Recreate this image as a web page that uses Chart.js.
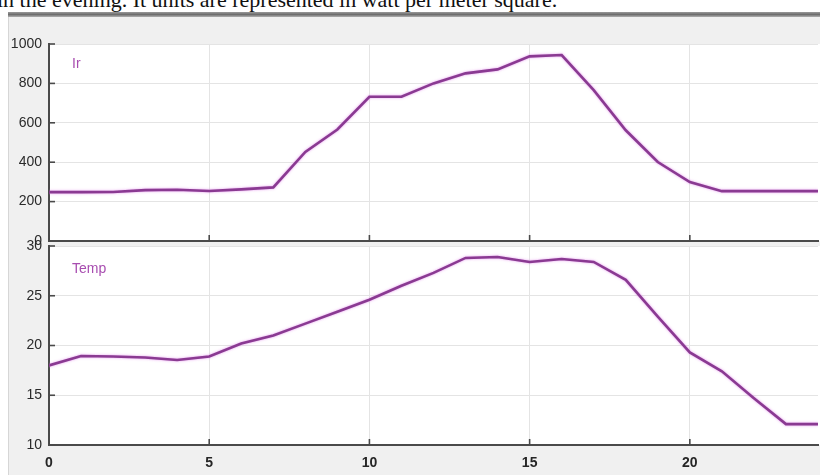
<!DOCTYPE html>
<html><head><meta charset="utf-8">
<script src="https://cdn.jsdelivr.net/npm/chart.js@4"></script>
<style>
html,body{margin:0;padding:0;background:#fff;}
#wrap{position:relative;width:820px;height:475px;overflow:hidden;background:#fff;}
#hdr{position:absolute;left:-3px;top:-11px;font-family:"Liberation Serif","Times New Roman",serif;font-size:22px;line-height:22px;color:#111;white-space:nowrap;}
#bar{position:absolute;left:8px;right:0;top:12px;height:5px;background:linear-gradient(#9a9a9a,#6e6e6e 50%,#b0b0b0);}
#panel{position:absolute;left:8px;right:0;top:17px;bottom:0;background:#f0f0f0;border-left:1px solid #d6d6d6;}
canvas{position:absolute;left:0;top:0;}
</style></head>
<body>
<div id="wrap">
<div id="hdr">in the evening. It units are represented in watt per meter square.</div>
<div id="bar"></div>
<div id="panel"></div>
<canvas id="c1" width="820" height="475"></canvas>
<canvas id="c2" width="820" height="475"></canvas>
</div>
<script>
const hours = [0,1,2,3,4,5,6,7,8,9,10,11,12,13,14,15,16,17,18,19,20,21,22,23,24];
const irValues = [248,248,249,258,260,254,262,272,452,566,732,732,800,851,871,937,944,766,562,401,299,253,253,253,253];
const tempValues = [18.0,18.95,18.9,18.8,18.55,18.9,20.2,21.0,22.2,23.4,24.6,26.0,27.3,28.8,28.9,28.4,28.7,28.4,26.6,22.9,19.3,17.4,14.7,12.1,12.1];
const xTicks = [0,5,10,15,20];
const irTicks = [0,200,400,600,800,1000];
const tempTicks = [10,15,20,25,30];

const lineColor = '#8a3a92';
const axisColor = '#4a4a4a';
const gridColor = '#e4e4e4';

const whiteBg = {
  id:'whiteBg',
  beforeDraw(chart){
    const a = chart.chartArea, ctx = chart.ctx;
    ctx.save(); ctx.fillStyle = '#ffffff';
    ctx.fillRect(a.left, a.top, chart.width - a.left, a.bottom - a.top);
    ctx.restore();
  }
};
const innerTicks = {
  id:'innerTicks',
  afterDraw(chart){
    const a = chart.chartArea, ctx = chart.ctx;
    ctx.save(); ctx.strokeStyle = axisColor; ctx.lineWidth = 1.6;
    chart.scales.y.ticks.forEach(t=>{
      const p = chart.scales.y.getPixelForValue(t.value);
      ctx.beginPath(); ctx.moveTo(a.left, p); ctx.lineTo(a.left+6, p); ctx.stroke();
    });
    chart.scales.x.ticks.forEach(t=>{
      const p = chart.scales.x.getPixelForValue(t.value);
      ctx.beginPath(); ctx.moveTo(p, a.bottom); ctx.lineTo(p, a.bottom-6); ctx.stroke();
    });
    const name = chart.options.plugins.seriesName;
    ctx.fillStyle = '#a84db0';
    ctx.font = '14px "Liberation Sans", Arial, sans-serif';
    ctx.textBaseline = 'alphabetic';
    ctx.fillText(name.text, a.left + 23, a.top + name.dy);
    ctx.restore();
  }
};
const glow = {
  id:'glow',
  beforeDatasetsDraw(chart){ chart.ctx.save(); chart.ctx.shadowColor='rgba(225,130,235,0.85)'; chart.ctx.shadowBlur=2.5; },
  afterDatasetsDraw(chart){ chart.ctx.restore(); }
};

function makeChart(id, values, yMin, yMax, yTicks, name, nameDy, padTop, padBottom, showX){
  return new Chart(document.getElementById(id), {
    type:'line',
    data:{ datasets:[{ data: hours.map((h,i)=>({x:h, y:values[i]})), borderColor:lineColor, borderWidth:2.6, pointRadius:0, tension:0, fill:false }]},
    options:{
      responsive:false, animation:false, events:[],
      layout:{ padding:{ top:padTop, bottom:padBottom, left:0, right:2 } },
      plugins:{ legend:{display:false}, tooltip:{enabled:false}, seriesName:{text:name, dy:nameDy} },
      scales:{
        x:{ type:'linear', min:0, max:24,
            afterBuildTicks(s){ s.ticks = xTicks.map(v=>({value:v})); },
            afterFit(s){ s.height = showX ? 30 : 0; },
            grid:{ color:gridColor, drawTicks:false, lineWidth:1 },
            border:{ display:true, color:axisColor, width:2 },
            ticks:{ display:showX, padding:10, color:'#262626', callback:v=>String(v), font:{ family:'"Liberation Sans", Arial, sans-serif', size:14, weight:'bold' } } },
        y:{ type:'linear', min:yMin, max:yMax,
            afterBuildTicks(s){ s.ticks = yTicks.map(v=>({value:v})); },
            afterFit(s){ s.width = 49; },
            grid:{ color:gridColor, drawTicks:false, lineWidth:1 },
            border:{ display:true, color:axisColor, width:2 },
            ticks:{ padding:7, color:'#2a2a2a', callback:v=>String(v), font:{ family:'"Liberation Sans", Arial, sans-serif', size:14 } } }
      }
    },
    plugins:[whiteBg, glow, innerTicks]
  });
}
makeChart('c1', irValues, 0, 1000, irTicks, 'Ir', 24, 44, 234, false);
makeChart('c2', tempValues, 10, 30, tempTicks, 'Temp', 27, 246, 0, true);
</script>
</body></html>
